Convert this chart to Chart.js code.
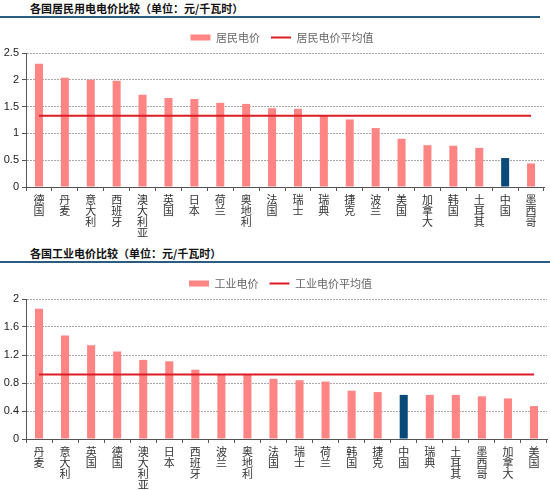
<!DOCTYPE html>
<html>
<head>
<meta charset="utf-8">
<script src="https://cdn.jsdelivr.net/npm/chart.js@4.4.1/dist/chart.umd.min.js"></script>
<style>
  body { margin: 0; width: 550px; height: 490px; background: #fff; position: relative; overflow: hidden; font-family: "Noto Sans CJK SC", sans-serif; }
  .title { position: absolute; left: 30px; font-size: 11px; font-weight: bold; color: #111; line-height: 16px; }
  .rule { position: absolute; left: 0; height: 2px; background: #2c5b80; }
  .box { position: absolute; left: 0; width: 550px; }
</style>
</head>
<body>
<div class="title" style="top:0">各国居民用电电价比较（单位：元/千瓦时）</div>
<div class="rule" style="top:16px;width:540px"></div>
<div class="box" style="top:17px;height:228px"><canvas id="resChart"></canvas></div>

<div class="title" style="top:245px">各国工业电价比较（单位：元/千瓦时）</div>
<div class="rule" style="top:261px;width:550px"></div>
<div class="box" style="top:264px;height:226px"><canvas id="indChart"></canvas></div>

<script>
// residential prices
const resCountries = ['德国', '丹麦', '意大利', '西班牙', '澳大利亚', '英国', '日本', '荷兰', '奥地利', '法国',
  '瑞士', '瑞典', '捷克', '波兰', '美国', '加拿大', '韩国', '土耳其', '中国', '墨西哥'];
const resValues = [2.30, 2.04, 2.00, 1.98, 1.72, 1.66, 1.64, 1.57, 1.55, 1.47,
  1.46, 1.33, 1.26, 1.10, 0.90, 0.78, 0.77, 0.73, 0.54, 0.44];
const resAverage = 1.33;
const resTicks = ['0', '0.5', '1', '1.5', '2', '2.5'];

// industrial prices
const indCountries = ['丹麦', '意大利', '英国', '德国', '澳大利亚', '日本', '西班牙', '波兰', '奥地利', '法国',
  '瑞士', '荷兰', '韩国', '捷克', '中国', '瑞典', '土耳其', '墨西哥', '加拿大', '美国'];
const indValues = [1.86, 1.48, 1.34, 1.25, 1.13, 1.11, 0.99, 0.92, 0.92, 0.86,
  0.84, 0.82, 0.69, 0.67, 0.63, 0.63, 0.63, 0.61, 0.58, 0.47];
const indAverage = 0.92;
const indTicks = ['0', '0.4', '0.8', '1.2', '1.6', '2'];

const PINK = '#ff8585';
const NAVY = '#0b4a78';
const RED = '#dc1c24';

function buildChart(id, cats, vals, avg, ticks, barName, avgName, opts) {
  const ctx = document.getElementById(id).getContext('2d');
  return new Chart(ctx, {
    type: 'bar',
    data: {
      labels: cats.map(c => c.split('')), // stack characters vertically
      datasets: [
        {
          label: barName,
          data: vals,
          backgroundColor: cats.map(c => c === '中国' ? NAVY : PINK),
          categoryPercentage: 1,
          barPercentage: 0.31,
          order: 1
        },
        {
          type: 'line',
          label: avgName,
          data: cats.map(() => avg),
          borderColor: RED,
          backgroundColor: RED,
          borderWidth: 2,
          pointRadius: 0,
          order: 0
        }
      ]
    },
    options: {
      responsive: true,
      maintainAspectRatio: false,
      animation: false,
      layout: { padding: { top: opts.padTop, right: opts.padRight, left: 0, bottom: 0 } },
      plugins: {
        tooltip: { enabled: false },
        legend: {
          position: 'top',
          labels: {
            usePointStyle: true,
            pointStyleWidth: 20,
            boxHeight: 6,
            padding: 11,
            color: '#666',
            font: { family: '"Noto Sans CJK SC"', size: 11 },
            sort: (a, b) => a.datasetIndex - b.datasetIndex,
            generateLabels: chart => {
              const items = Chart.defaults.plugins.legend.labels.generateLabels(chart);
              items.forEach(it => {
                it.pointStyle = it.datasetIndex === 0 ? 'rect' : 'line';
                if (it.datasetIndex === 0) { it.fillStyle = PINK; it.strokeStyle = PINK; it.lineWidth = 0; }
              });
              return items;
            }
          }
        }
      },
      scales: {
        x: {
          afterFit: s => { s.height = opts.xHeight; },
          grid: { offset: true, drawOnChartArea: false, tickLength: 4, color: '#555' },
          border: { color: '#555' },
          ticks: {
            autoSkip: false,
            maxRotation: 0,
            padding: 3,
            color: '#333',
            font: { family: '"Noto Sans CJK SC"', size: 11, lineHeight: 1.0 }
          }
        },
        y: {
          min: 0,
          max: opts.yMax,
          afterFit: s => { s.width = 26; },
          grid: {
            color: c => c.tick.value === 0 ? 'rgba(0,0,0,0)' : '#a8a8a8',
            tickColor: '#555',
            tickLength: 4
          },
          border: { color: '#555', dash: [2, 1] },
          ticks: {
            stepSize: opts.step,
            padding: 3,
            color: '#222',
            font: { family: '"Liberation Sans", Arial, sans-serif', size: 11 },
            callback: (v, i) => ticks[i]
          }
        }
      }
    },
    plugins: [{
      id: 'centerLegend',
      afterLayout(chart) {
        chart.legend.left += opts.legendShift;
        chart.legend.right += opts.legendShift;
      }
    }]
  });
}

buildChart('resChart', resCountries, resValues, resAverage, resTicks, '居民电价', '居民电价平均值',
  { yMax: 2.5, step: 0.5, padTop: 4, padRight: 6, xHeight: 58, legendShift: 10 });
buildChart('indChart', indCountries, indValues, indAverage, indTicks, '工业电价', '工业电价平均值',
  { yMax: 2, step: 0.4, padTop: 3, padRight: 3, xHeight: 51, legendShift: 7 });
</script>
</body>
</html>
